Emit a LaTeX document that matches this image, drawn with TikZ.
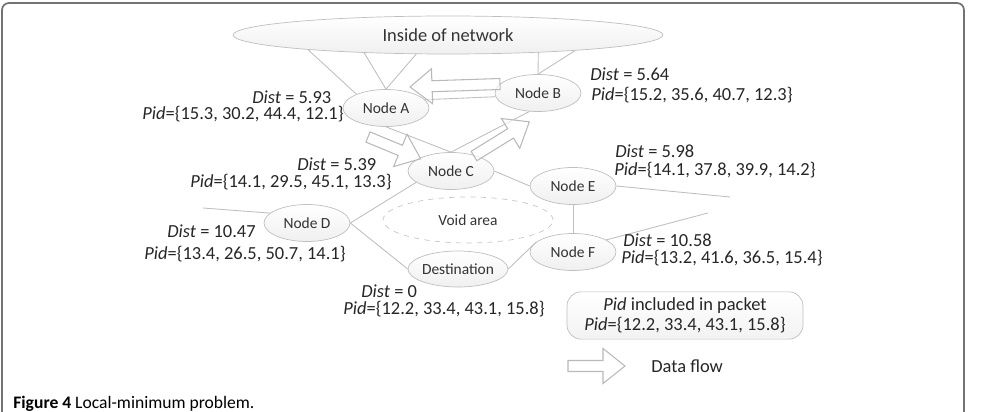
\documentclass[tikz,border=0pt]{standalone}
\usepackage{fontspec}
\setmainfont{Carlito}
\usetikzlibrary{shapes.geometric}

\begin{document}
\begin{tikzpicture}[
    x=0.02cm, y=-0.02cm,
    peer/.style={draw=gray!50, ellipse, top color=white, bottom color=gray!12, inner sep=0pt, minimum width=1.72cm, minimum height=0.74cm, font=\fontsize{8.8}{10}\selectfont, text=black!80},
    link/.style={draw=gray!50, line width=0.5pt},
    info/.style={inner sep=0pt, anchor=base west, text=black!85, font=\fontsize{10.5}{12}\selectfont},
    flowline/.style={draw=gray!55, fill=white, fill opacity=0.6, line width=0.6pt},
    pics/flow/.style={code={
        \draw[flowline] (0,-5.5) -- (#1-22,-5.5) -- (#1-22,-17.5) -- (#1,0) -- (#1-22,17.5) -- (#1-22,5.5) -- (0,5.5) -- cycle;
    }}
]
    \useasboundingbox (0,0) rectangle (988,412);
    \clip (0,0) rectangle (988,412);

    % Outer frame
    \draw[black!55, line width=1pt, rounded corners=4pt] (2,3) rectangle (964,440);

    % Network and nodes
    \node[peer, minimum width=8.6cm, minimum height=0.76cm, font=\fontsize{10.5}{12}\selectfont] (network) at (448,35) {Inside of network};
    \node[peer] (nodea) at (386,108) {Node A};
    \node[peer] (nodeb) at (538,93) {Node B};
    \node[peer] (nodec) at (451,171) {Node C};
    \node[peer] (noded) at (307,223) {Node D};
    \node[peer] (nodee) at (573,186) {Node E};
    \node[peer] (nodef) at (573,252) {Node F};
    \node[peer, minimum width=2.0cm, minimum height=0.72cm, inner xsep=-4pt] (dest) at (458,269) {Destination};
    \node[draw=gray!45, dashed, ellipse, inner sep=0pt, minimum width=3.4cm, minimum height=0.92cm, font=\fontsize{8.8}{10}\selectfont, text=black!80] (void) at (468,220) {Void area};

    % Loose ends of the links
    \coordinate (outd) at (203,208);
    \coordinate (oute) at (730,197);
    \coordinate (outf) at (708,213);

    % Links
    \draw[link] (network.186) -- (nodea.155);
    \draw[link] (network.192) -- (nodea.north);
    \draw[link] (network.211) -- (nodea.north);
    \draw[link] (network.349) -- (nodeb.north);
    \draw[link] (network.353) -- (nodeb.north);
    \draw[link] (nodea.12) -- (nodeb.185);
    \draw[link] (nodea.south) -- (nodec.north);
    \draw[link] (nodec.north) -- (nodeb.245);
    \draw[link] (nodec.east) -- (nodee.west);
    \draw[link] (nodec.198) -- (noded.east);
    \draw[link] (noded.east) -- (dest.west);
    \draw[link] (dest.east) -- (nodef.165);
    \draw[link] (nodee.south) -- (nodef.north);
    \draw[link] (noded.165) -- (outd);
    \draw[link] (nodee.east) -- (oute);
    \draw[link] (nodef.20) -- (outf);

    % Data flow arrows
    \pic[rotate=181.9] at (500,84) {flow=90};
    \pic[rotate=-22.5] at (368,137) {flow=57};
    \pic[rotate=31.7] at (474,156) {flow=65};

    % Dist and Pid of every node
    \node[info] (dista) at (252,104) {\textit{Dist} = 5.93};
    \node[info] (pida) at (142,120) {\textit{Pid}=\{15.3, 30.2, 44.4, 12.1\}};
    \node[info] (distb) at (590,81) {\textit{Dist} = 5.64};
    \node[info] (pidb) at (591,101) {\textit{Pid}=\{15.2, 35.6, 40.7, 12.3\}};
    \node[info] (distc) at (297,171) {\textit{Dist} = 5.39};
    \node[info] (pidc) at (190,188) {\textit{Pid}=\{14.1, 29.5, 45.1, 13.3\}};
    \node[info] (diste) at (615,158) {\textit{Dist} = 5.98};
    \node[info] (pide) at (614,175) {\textit{Pid}=\{14.1, 37.8, 39.9, 14.2\}};
    \node[info] (distd) at (167,237) {\textit{Dist} = 10.47};
    \node[info] (pidd) at (144,259) {\textit{Pid}=\{13.4, 26.5, 50.7, 14.1\}};
    \node[info] (distf) at (623,247) {\textit{Dist} = 10.58};
    \node[info] (pidf) at (621,263) {\textit{Pid}=\{13.2, 41.6, 36.5, 15.4\}};
    \node[info] (distdest) at (361,297) {\textit{Dist} = 0};
    \node[info] (piddest) at (343,315) {\textit{Pid}=\{12.2, 33.4, 43.1, 15.8\}};

    % Legend
    \node[draw=gray!50, rounded corners=8pt, top color=white, bottom color=gray!10, minimum width=4.72cm, minimum height=0.94cm, align=center, text=black!85, font=\fontsize{10.5}{11.5}\selectfont] (legend) at (685,315.5) {\textit{Pid} included in packet\\\textit{Pid}=\{12.2, 33.4, 43.1, 15.8\}};
    \pic at (568,366) {flow=57};
    \node[info] (flowtext) at (651,372) {Data flow};

    % Caption
    \node[inner sep=0pt, anchor=base west, font=\fontsize{10}{12}\selectfont] (caption) at (13,408) {\textbf{Figure 4} Local-minimum problem.};
\end{tikzpicture}
\end{document}
